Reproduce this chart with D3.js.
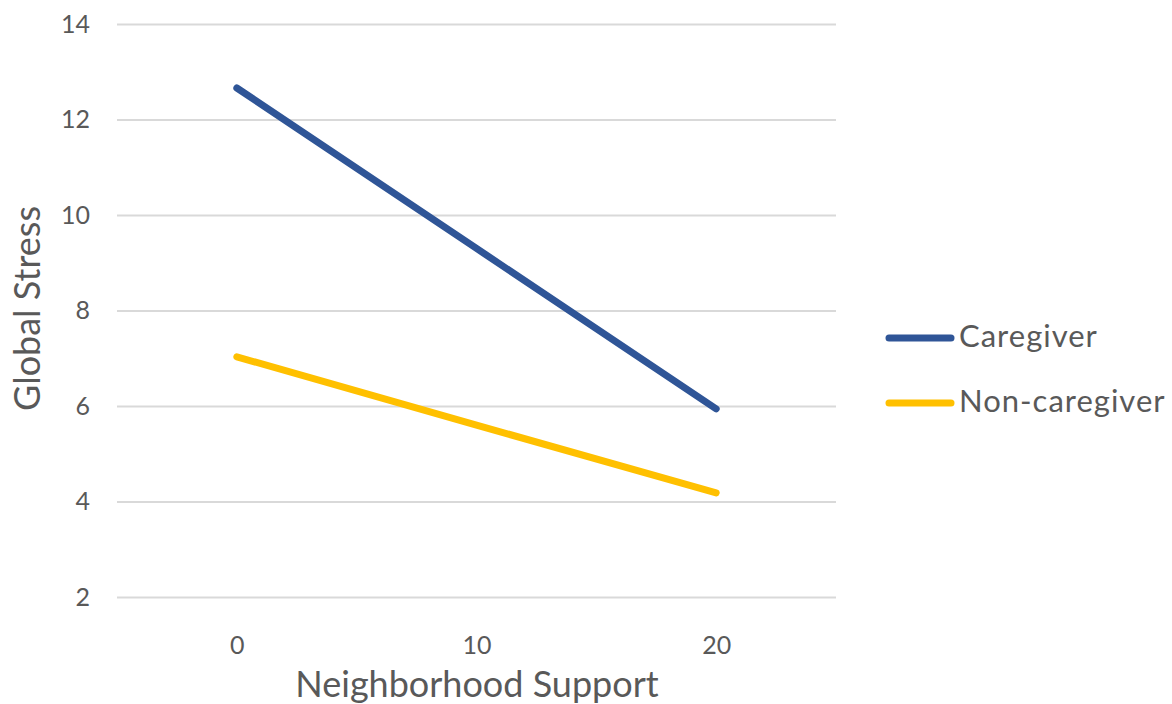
<!DOCTYPE html>
<html><head><meta charset="utf-8">
<script src="https://cdn.jsdelivr.net/npm/d3@7"></script>
<style>body{margin:0;background:#fff;} text{font-family:Lato,"Open Sans",sans-serif;}</style>
</head><body><svg id="c" width="1172" height="704"></svg>
<script>
const categories = ["0","10","20"];
const caregiver = [12.66, 9.30, 5.94];
const nonCaregiver = [7.03, 5.60, 4.18];
const yTicks = [2,4,6,8,10,12,14];
const seriesNames = ["Caregiver","Non-caregiver"];
const colors = ["#2F5597","#FFC000"];

(function(){
const svg = d3.select("#c");
const pL = 117, pR = 836, pT = 24, pB = 597;
const x = d3.scalePoint().domain(categories).range([pL, pR]).padding(0.5);
const y = d3.scaleLinear().domain([2,14]).range([pB, pT]);

const gy = svg.append("g").attr("transform",`translate(${pL},0)`)
  .call(d3.axisLeft(y).tickValues(yTicks).tickSize(-(pR-pL)).tickPadding(27));
gy.select(".domain").remove();
gy.selectAll("line").attr("stroke","#d9d9d9").attr("stroke-width",2);
gy.selectAll("text").attr("fill","#595959").style("font-size","25px");

const gx = svg.append("g").attr("transform",`translate(0,${pB})`)
  .call(d3.axisBottom(x).tickSize(0).tickPadding(39));
gx.select(".domain").remove();
gx.selectAll("text").attr("fill","#595959").style("font-size","25px");

const line = d3.line().x((d,i)=>x(categories[i])).y(d=>y(d));
[caregiver, nonCaregiver].forEach((s,k)=>{
  svg.append("path").datum(s).attr("d",line).attr("fill","none")
    .attr("stroke",colors[k]).attr("stroke-width",7).attr("stroke-linecap","round");
});

svg.append("text").attr("x",477).attr("y",697).attr("text-anchor","middle")
  .attr("fill","#595959").style("font-size","36px").text("Neighborhood Support");
svg.append("text").attr("transform",`translate(40,${(205+412)/2}) rotate(-90)`).attr("text-anchor","middle")
  .attr("fill","#595959").style("font-size","36px").text("Global Stress");

const leg = svg.append("g");
seriesNames.forEach((n,k)=>{
  const ly = 338 + k*65;
  leg.append("line").attr("x1",889).attr("x2",951).attr("y1",ly).attr("y2",ly)
    .attr("stroke",colors[k]).attr("stroke-width",7).attr("stroke-linecap","round");
  leg.append("text").attr("x",959).attr("y",ly+9).attr("fill","#595959")
    .style("font-size","31px").style("letter-spacing","1px").text(n);
});
})();
</script></body></html>
